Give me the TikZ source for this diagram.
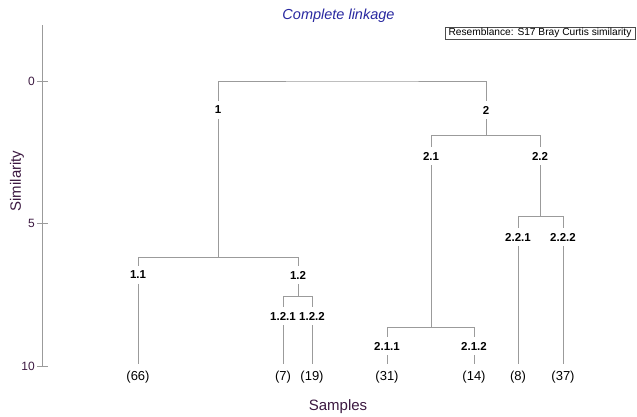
\documentclass[tikz,border=0pt]{standalone}
\usepackage{fontspec}
\setmainfont{Liberation Sans}
\definecolor{axcol}{RGB}{60,25,65}
\definecolor{ttlcol}{RGB}{40,40,160}
\definecolor{lncol}{RGB}{155,155,155}
\begin{document}
\begin{tikzpicture}[x=1pt,y=-1pt,
  br/.style={draw=lncol,line width=1pt},
  clab/.style={font=\fontsize{11.5}{12}\selectfont\bfseries,inner sep=1pt,outer sep=4pt},
  leaf/.style={font=\fontsize{13}{14}\selectfont,inner sep=0pt,outer sep=7pt},
  axlab/.style={font=\fontsize{12}{13}\selectfont,text=axcol,anchor=east,inner sep=0pt},
  tick/.style={draw=lncol,line width=1pt}]
\useasboundingbox (0,0) rectangle (637,416);
% title and legend
\node[font=\fontsize{14.5}{16}\selectfont\itshape,text=ttlcol] (title) at (338.5,16) {Complete linkage};
\node[draw=black!70,line width=0.5pt,minimum width=190,minimum height=12,inner sep=0pt,font=\fontsize{10.2}{11}\selectfont] (legend) at (540,33) {Resemblance: S17 Bray Curtis similarity};
% axis
\coordinate (axt) at (42,25);
\coordinate (axb) at (42,366);
\draw[tick] (axt) -- (axb);
\coordinate (t0a) at (37,81); \coordinate (t0b) at (48,81);
\coordinate (t5a) at (37,223); \coordinate (t5b) at (48,223);
\coordinate (t10a) at (37,366); \coordinate (t10b) at (48,366);
\draw[tick] (t0a) -- (t0b);
\draw[tick] (t5a) -- (t5b);
\draw[tick] (t10a) -- (t10b);
\node[axlab] (l0) at (35,81) {0};
\node[axlab] (l5) at (35,223) {5};
\node[axlab] (l10) at (35,366) {10};
\node[font=\fontsize{15}{16}\selectfont,text=axcol,rotate=90] (ylab) at (17,181) {Similarity};
\node[font=\fontsize{15}{16}\selectfont,text=axcol] (xlab) at (338,407) {Samples};
% cluster labels
\node[clab] (n1) at (218,110) {1};
\node[clab] (n2) at (486,110) {2};
\node[clab] (n11) at (138,275) {1.1};
\node[clab] (n12) at (298,275) {1.2};
\node[clab] (n121) at (283,316) {1.2.1};
\node[clab] (n122) at (312,316) {1.2.2};
\node[clab] (n21) at (431,156) {2.1};
\node[clab] (n22) at (540,156) {2.2};
\node[clab] (n211) at (387,346) {2.1.1};
\node[clab] (n212) at (474,346) {2.1.2};
\node[clab] (n221) at (518,237) {2.2.1};
\node[clab] (n222) at (563,237) {2.2.2};
% leaves
\node[leaf] (s66) at (138,377) {(66)};
\node[leaf] (s7) at (283,377) {(7)};
\node[leaf] (s19) at (312,377) {(19)};
\node[leaf] (s31) at (387,377) {(31)};
\node[leaf] (s14) at (474,377) {(14)};
\node[leaf] (s8) at (518,377) {(8)};
\node[leaf] (s37) at (563,377) {(37)};
% bar coordinates
\coordinate (b0) at (352,81);
\coordinate (b1) at (218,257);
\coordinate (b12) at (298,296);
\coordinate (b2) at (486,135);
\coordinate (b21) at (431,327);
\coordinate (b22) at (540,216);
% connectors
\draw[br] (n1) |- (b0) -| (n2);
\draw[br] (n1) -- (b1);
\draw[br] (b1) -| (n11);
\draw[br] (b1) -| (n12);
\draw[br] (n12) -- (b12);
\draw[br] (b12) -| (n121);
\draw[br] (b12) -| (n122);
\draw[br] (n2) -- (b2);
\draw[br] (b2) -| (n21);
\draw[br] (b2) -| (n22);
\draw[br] (n21) -- (b21);
\draw[br] (b21) -| (n211);
\draw[br] (b21) -| (n212);
\draw[br] (n22) -- (b22);
\draw[br] (b22) -| (n221);
\draw[br] (b22) -| (n222);
\draw[br] (n11) -- (s66);
\draw[br] (n121) -- (s7);
\draw[br] (n122) -- (s19);
\draw[br] (n211) -- (s31);
\draw[br] (n212) -- (s14);
\draw[br] (n221) -- (s8);
\draw[br] (n222) -- (s37);
\end{tikzpicture}
\end{document}
